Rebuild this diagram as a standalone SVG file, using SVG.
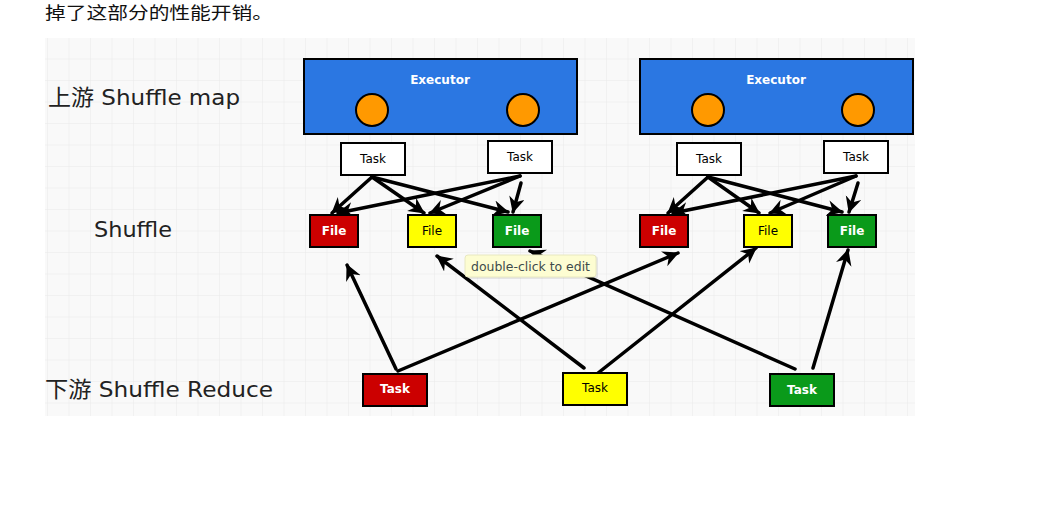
<svg xmlns="http://www.w3.org/2000/svg" width="1060" height="525" viewBox="0 0 1060 525">
  <style>
    .lbl { font-family: "DejaVu Sans", "Noto Sans CJK SC", sans-serif; font-size: 22px; fill: #222; }
    .box { stroke: #000; stroke-width: 2; }
    .t { font-family: "DejaVu Sans", sans-serif; font-size: 12px; text-anchor: middle; }
    .tb { font-family: "DejaVu Sans", sans-serif; font-size: 12px; font-weight: bold; text-anchor: middle; }
    .conn { stroke: #000; stroke-width: 3.5; fill: none; marker-end: url(#ah); stroke-linecap: round; }
    .red { fill: #cc0000; }
    .yel { fill: #ffff00; }
    .grn { fill: #0a9a1a; }
    .wht { fill: #ffffff; }
    .blue { fill: #2b77e2; }
    .orng { fill: #ff9900; }
  </style>
  <defs>
    <pattern id="grid" x="47" y="37" width="21.5" height="21.5" patternUnits="userSpaceOnUse">
      <path d="M0,0 H21.5 M0,0 V21.5" stroke="#e9e9e9" stroke-width="1" fill="none"/>
    </pattern>
    <marker id="ah" markerUnits="userSpaceOnUse" markerWidth="20" markerHeight="18" refX="15" refY="8" orient="auto">
      <path d="M0,0 L16,8 L0,16 L5,8 z" fill="#000"/>
    </marker>
  </defs>
  <rect width="1060" height="525" fill="#ffffff"/>
  <text x="45" y="19" font-family="Noto Sans CJK SC, sans-serif" font-size="17" fill="#111" textLength="228" lengthAdjust="spacingAndGlyphs">掉了这部分的性能开销。</text>
  <rect x="45" y="38" width="870" height="378" fill="#f9f9f9"/>
  <rect x="45" y="38" width="870" height="378" fill="url(#grid)"/>

  <g id="labels">
    <text class="lbl" x="48" y="105" textLength="192" lengthAdjust="spacingAndGlyphs">上游 Shuffle map</text>
    <text class="lbl" x="94" y="237" textLength="78" lengthAdjust="spacingAndGlyphs">Shuffle</text>
    <text class="lbl" x="45" y="397" textLength="228" lengthAdjust="spacingAndGlyphs">下游 Shuffle Reduce</text>
  </g>

  <g id="connectors">
    <line class="conn" x1="372" y1="177" x2="332" y2="213"/>
    <line class="conn" x1="372" y1="177" x2="424" y2="213"/>
    <line class="conn" x1="372" y1="177" x2="508" y2="212"/>
    <line class="conn" x1="520" y1="176" x2="338" y2="213"/>
    <line class="conn" x1="520" y1="176" x2="430" y2="213"/>
    <line class="conn" x1="521" y1="183" x2="513" y2="212"/>

    <line class="conn" x1="708" y1="177" x2="668" y2="213"/>
    <line class="conn" x1="708" y1="177" x2="759" y2="213"/>
    <line class="conn" x1="708" y1="177" x2="842" y2="212"/>
    <line class="conn" x1="856" y1="176" x2="673" y2="213"/>
    <line class="conn" x1="856" y1="176" x2="770" y2="213"/>
    <line class="conn" x1="858" y1="183" x2="849" y2="212"/>

    <line class="conn" x1="396" y1="369" x2="347" y2="265"/>
    <line class="conn" x1="398" y1="371" x2="678" y2="253"/>
    <line class="conn" x1="584" y1="368" x2="437" y2="256"/>
    <line class="conn" x1="593" y1="377" x2="756" y2="248"/>
    <line class="conn" x1="795" y1="369" x2="530" y2="251"/>
    <line class="conn" x1="813" y1="368" x2="848" y2="250"/>
  </g>

  <g id="executor1">
    <rect class="box blue" x="304" y="59" width="273" height="75"/>
    <text class="t" x="440" y="84" fill="#fff" font-size="13" font-weight="600">Executor</text>
    <circle class="box orng" cx="372" cy="110" r="16"/>
    <circle class="box orng" cx="523" cy="110" r="16"/>
  </g>
  <g id="executor2">
    <rect class="box blue" x="640" y="59" width="273" height="75"/>
    <text class="t" x="776" y="84" fill="#fff" font-size="13" font-weight="600">Executor</text>
    <circle class="box orng" cx="708" cy="110" r="16"/>
    <circle class="box orng" cx="858" cy="110" r="16"/>
  </g>

  <g id="task1"><rect class="box wht" x="341" y="143" width="64" height="32"/><text class="t" x="373" y="163">Task</text></g>
  <g id="task2"><rect class="box wht" x="488" y="141" width="64" height="32"/><text class="t" x="520" y="161">Task</text></g>
  <g id="task3"><rect class="box wht" x="677" y="143" width="64" height="32"/><text class="t" x="709" y="163">Task</text></g>
  <g id="task4"><rect class="box wht" x="824" y="141" width="64" height="32"/><text class="t" x="856" y="161">Task</text></g>

  <g id="file1"><rect class="box red" x="310" y="215" width="48" height="32"/><text class="tb" x="334" y="235" fill="#fff">File</text></g>
  <g id="file2"><rect class="box yel" x="408" y="215" width="48" height="32"/><text class="t" x="432" y="235" fill="#000">File</text></g>
  <g id="file3"><rect class="box grn" x="493" y="215" width="48" height="32"/><text class="tb" x="517" y="235" fill="#fff">File</text></g>
  <g id="file4"><rect class="box red" x="640" y="215" width="48" height="32"/><text class="tb" x="664" y="235" fill="#fff">File</text></g>
  <g id="file5"><rect class="box yel" x="744" y="215" width="48" height="32"/><text class="t" x="768" y="235" fill="#000">File</text></g>
  <g id="file6"><rect class="box grn" x="828" y="215" width="48" height="32"/><text class="tb" x="852" y="235" fill="#fff">File</text></g>

  <g id="rtask1"><rect class="box red" x="363" y="374" width="64" height="32"/><text class="tb" x="395" y="393" fill="#fff">Task</text></g>
  <g id="rtask2"><rect class="box yel" x="563" y="373" width="64" height="32"/><text class="t" x="595" y="392" fill="#000">Task</text></g>
  <g id="rtask3"><rect class="box grn" x="770" y="374" width="64" height="32"/><text class="tb" x="802" y="394" fill="#fff">Task</text></g>

  <g id="tooltip">
    <rect x="466" y="256" width="132" height="23" rx="3" fill="#000" opacity="0.08"/>
    <rect x="465" y="255" width="131" height="22" rx="3" fill="#fdfdd2" stroke="#e8e8c0" stroke-width="1"/>
    <text x="471" y="271" font-family="DejaVu Sans, sans-serif" font-size="11.5" fill="#3d4b4b" textLength="119" lengthAdjust="spacingAndGlyphs">double-click to edit</text>
  </g>
</svg>
